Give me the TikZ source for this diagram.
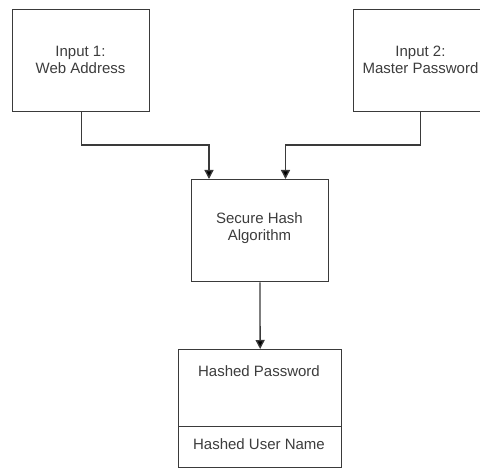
\documentclass[tikz,border=0pt]{standalone}
\usepackage{fontspec}
\setmainfont{Liberation Sans}
\usetikzlibrary{arrows.meta,positioning}
\definecolor{edge}{HTML}{3A3A3A}
\definecolor{txt}{HTML}{3C3C3C}
\tikzset{
  boxnode/.style={draw=edge,line width=1.3pt,rectangle,inner sep=0pt,anchor=north west},
  label/.style={text=txt,font=\fontsize{15}{17}\selectfont,align=center,inner sep=0pt},
  conn/.style={draw=edge,line width=1.3pt,-{Triangle[width=9pt,length=9pt,fill=black]}}
}
\begin{document}
\begin{tikzpicture}[x=1pt,y=-1pt]
\useasboundingbox (0,0) rectangle (480,468);
\clip (0,0) rectangle (480,468);
% boxes
\node[boxnode,minimum width=137pt,minimum height=102pt] (b1) at (12,9) {};
\node[boxnode,minimum width=126.5pt,minimum height=102pt] (b2) at (353,9) {};
\node[boxnode,minimum width=136.7pt,minimum height=102pt] (m) at (191,179) {};
\node[boxnode,minimum width=163pt,minimum height=77pt] (p) at (178,349) {};
\node[boxnode,minimum width=163pt,minimum height=41pt] (u) at (178,426) {};
% texts
\node[label] (t1) at (80.5,60) {Input 1:\\Web Address};
\node[label] (t2) at (420.5,60) {Input 2:\\Master Password};
\node[label] (tm) at (259.5,228.5) {Secure Hash\\Algorithm};
\node[label] (tp) at (259,371) {Hashed Password};
\node[label] (tu) at (259,444) {Hashed User Name};
% connectors
\coordinate (j1) at (209,145);
\coordinate (j2) at (285.5,145);
\draw[conn] (b1.south) |- (j1) -- (j1 |- m.north);
\draw[conn] (t2 |- b2.south) |- (j2) -- (j2 |- m.north);
\draw[conn] (m.south) -- (p.north);
\end{tikzpicture}
\end{document}
